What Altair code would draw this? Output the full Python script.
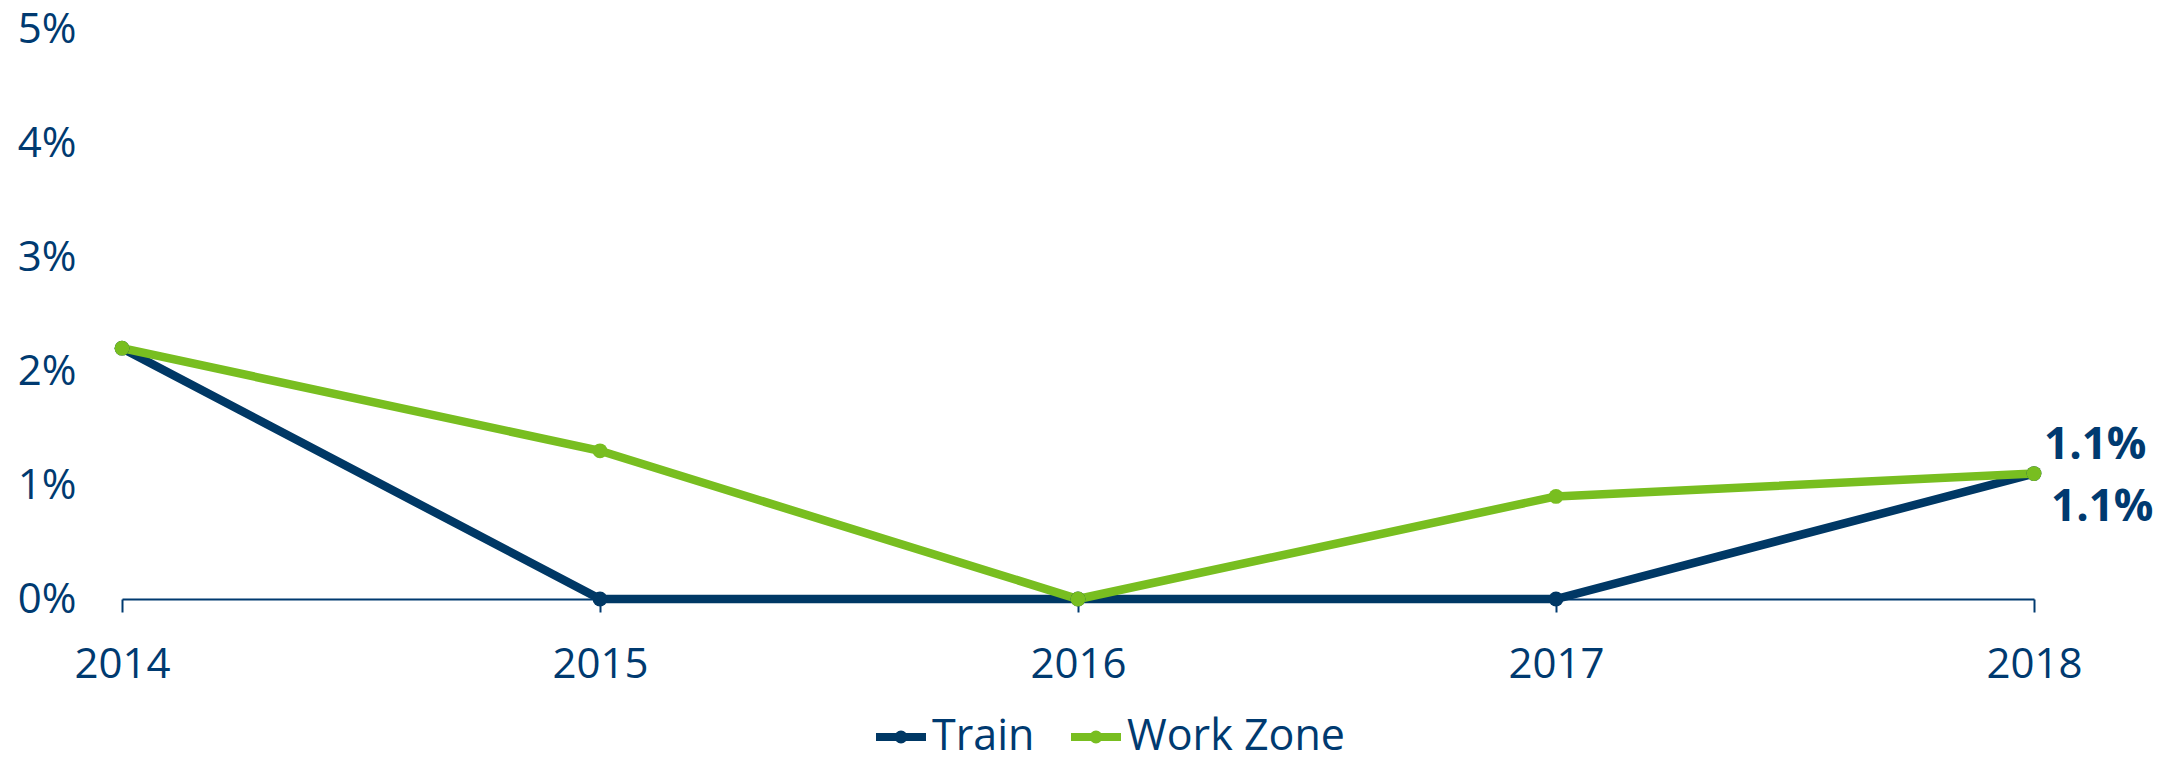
import altair as alt
import pandas as pd

years = ["2014", "2015", "2016", "2017", "2018"]
train = [0.022, 0.0, 0.0, 0.0, 0.011]
work_zone = [0.022, 0.013, 0.0, 0.009, 0.011]
series_names = ["Train", "Work Zone"]
colors = ["#003865", "#78BE20"]
y_ticks = [0, 0.01, 0.02, 0.03, 0.04, 0.05]

rows = []
for y, t, w in zip(years, train, work_zone):
    rows.append({"year": y, "series": "Train", "value": t})
    rows.append({"year": y, "series": "Work Zone", "value": w})
df = pd.DataFrame(rows)

NAVY = "#003A70"
FONT = "Open Sans"

x_enc = alt.X("year:O", scale=alt.Scale(type="point", padding=0),
              axis=alt.Axis(title=None, labelAngle=0, labelFontSize=42, labelFont=FONT,
                            labelColor=NAVY, domainColor=NAVY, domainWidth=2,
                            tickColor=NAVY, tickWidth=2, tickSize=13, labelPadding=32,
                            grid=False))
y_enc = alt.Y("value:Q", scale=alt.Scale(domain=[0, 0.05], nice=False),
              axis=alt.Axis(title=None, values=y_ticks, format=".0%", labelFontSize=42,
                            labelFont=FONT, labelColor=NAVY, domain=False, ticks=False,
                            grid=False, labelPadding=46))

legend_symbol = "M-1,0L1,0M0.1,0A0.1,0.1 0 1,1 -0.1,0A0.1,0.1 0 1,1 0.1,0"

lines = alt.Chart(df).mark_line(
    strokeWidth=8.5,
    point=alt.OverlayMarkDef(size=220, filled=True),
).encode(
    x=x_enc,
    y=y_enc,
    color=alt.Color("series:N", scale=alt.Scale(domain=series_names, range=colors),
                    legend=alt.Legend(title=None, orient="none", direction="horizontal",
                                      legendX=750, legendY=679,
                                      labelFontSize=43, labelFont=FONT, labelColor=NAVY,
                                      labelLimit=0,
                                      symbolType=legend_symbol, symbolSize=2500,
                                      symbolStrokeWidth=8, labelOffset=2,
                                      columnPadding=20)),
)

wz_label = alt.Chart(df).transform_filter(
    (alt.datum.year == "2018") & (alt.datum.series == "Work Zone")
).mark_text(align="left", baseline="middle", dx=10, dy=-28, fontSize=44,
            fontWeight="bold", font=FONT, color=NAVY).encode(
    x="year:O", y="value:Q", text=alt.Text("value:Q", format=".1%"))

tr_label = alt.Chart(df).transform_filter(
    (alt.datum.year == "2018") & (alt.datum.series == "Train")
).mark_text(align="left", baseline="middle", dx=17, dy=34, fontSize=44,
            fontWeight="bold", font=FONT, color=NAVY).encode(
    x="year:O", y="value:Q", text=alt.Text("value:Q", format=".1%"))

chart = alt.layer(lines, wz_label, tr_label).properties(
    width=1912, height=570,
    autosize="none",
    padding={"left": 114, "top": 21, "right": 120, "bottom": 161},
).configure_view(stroke=None)

chart.save("out.html", embed_options={"renderer": "svg", "actions": False})
